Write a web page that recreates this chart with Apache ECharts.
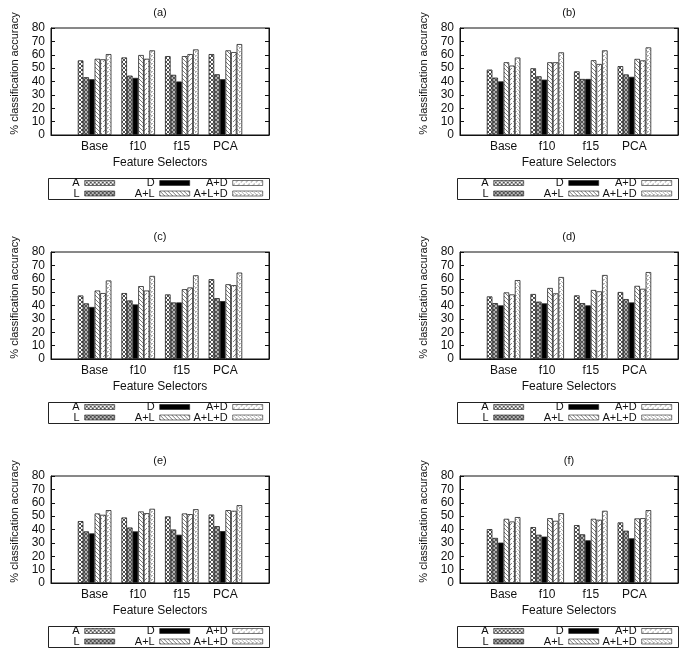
<!DOCTYPE html>
<html><head><meta charset="utf-8">
<script src="https://cdn.jsdelivr.net/npm/echarts@6/dist/echarts.min.js"></script>
<style>html,body{margin:0;padding:0;background:#fff}#chart{width:685px;height:654px}</style>
</head><body><div id="chart"></div>
<script>
// ---------- data ----------
const categories = ['Base', 'f10', 'f15', 'PCA'];
const seriesNames = ['A', 'L', 'D', 'A+L', 'A+D', 'A+L+D'];
const panelTitles = ['(a)', '(b)', '(c)', '(d)', '(e)', '(f)'];
const yMin = 0, yMax = 80, yStep = 10;
const yAxisTitle = '% classification accuracy';
const xAxisTitle = 'Feature Selectors';
// each panel: one row per series (A, L, D, A+L, A+D, A+L+D), values for Base, f10, f15, PCA
const panelA = [
  [55.8, 58.0, 59.0, 60.5],
  [43.2, 44.4, 45.0, 45.4],
  [41.7, 42.7, 40.0, 41.7],
  [57.0, 59.8, 59.0, 63.3],
  [56.6, 57.0, 60.5, 62.0],
  [60.5, 63.3, 64.0, 68.0]
];
const panelB = [
  [48.9, 49.9, 47.6, 51.5],
  [42.9, 43.9, 41.9, 45.3],
  [40.1, 41.4, 41.9, 43.5],
  [54.4, 54.4, 55.9, 56.9],
  [51.9, 54.4, 53.1, 55.8],
  [57.9, 61.8, 63.3, 65.5]
];
const panelC = [
  [47.5, 49.3, 48.3, 59.7],
  [41.6, 43.8, 42.3, 45.5],
  [38.9, 40.8, 42.3, 43.3],
  [51.2, 54.5, 52.2, 55.9],
  [49.3, 51.2, 53.5, 55.2],
  [58.7, 62.1, 62.6, 64.6]
];
const panelD = [
  [46.8, 48.6, 47.6, 50.1],
  [41.8, 42.9, 41.8, 44.8],
  [40.1, 41.6, 40.1, 42.3],
  [49.8, 53.1, 51.6, 54.7],
  [48.3, 49.1, 50.6, 52.5],
  [59.0, 61.3, 62.8, 65.0]
];
const panelE = [
  [46.3, 49.0, 49.8, 51.2],
  [38.6, 41.5, 40.0, 42.5],
  [37.1, 38.6, 36.1, 38.8],
  [52.0, 53.5, 52.0, 54.5],
  [51.0, 52.2, 51.5, 54.0],
  [54.5, 55.5, 55.2, 58.2]
];
const panelF = [
  [40.3, 41.8, 43.3, 45.3],
  [33.7, 36.1, 36.4, 39.1],
  [30.2, 34.7, 31.9, 33.4],
  [48.0, 48.5, 48.0, 48.3],
  [46.0, 46.5, 47.3, 48.5],
  [49.3, 52.2, 54.0, 54.5]
];
const panels = [panelA, panelB, panelC, panelD, panelE, panelF];

// ---------- styles ----------
const FONT = '"Liberation Sans", Arial, Helvetica, sans-serif';
const TXT = '#111';
function makeTile(w, h, bg, fg, cells) {
  const c = document.createElement('canvas');
  c.width = w; c.height = h;
  const ctx = c.getContext('2d');
  ctx.fillStyle = bg; ctx.fillRect(0, 0, w, h);
  ctx.fillStyle = fg;
  cells.forEach(p => ctx.fillRect(p[0], p[1], 1, 1));
  return { image: c, repeat: 'repeat' };
}
const X4 = [[0,0],[1,1],[2,2],[3,3],[3,0],[2,1],[1,2],[0,3]];
const fills = [
  makeTile(4, 4, '#ffffff', '#505050', X4),                 // A  crosshatch
  makeTile(4, 4, '#b4b4b4', '#555555', X4),                 // L  dense gray hatch
  '#000000',                                                // D  solid
  makeTile(4, 4, '#ffffff', '#7a7a7a', [[0,0],[1,1],[2,2],[3,3]]),   // A+L  \\\
  makeTile(5, 5, '#ffffff', '#8a8a8a', [[4,0],[3,1],[1,3],[0,4]]),   // A+D  /// dashed
  makeTile(4, 4, '#ffffff', '#b0b0b0', [[3,0],[1,1],[2,2],[0,3],[3,3]]) // A+L+D dotted
];

// ---------- layout ----------
const colBase = [50, 459];
const rowTop = [28, 252, 476];
const gridW = 218, gridH = 107;
const legendRows = [['A', 'D', 'A+D'], ['L', 'A+L', 'A+L+D']];
const legendRight = [65, 140, 213];   // swatch right edge offset from colBase
const legendRowY = [155.5, 166];      // row centre offset from grid top

const option = {
  animation: false,
  backgroundColor: '#fff',
  textStyle: { fontFamily: FONT, color: TXT },
  title: [], grid: [], xAxis: [], yAxis: [], series: [], legend: [], graphic: []
};

panels.forEach((vals, p) => {
  const left = colBase[p % 2];
  const top = rowTop[Math.floor(p / 2)];
  option.title.push({
    text: panelTitles[p], left: left + 1 + gridW / 2, top: top - 21, textAlign: 'center', padding: 0,
    textStyle: { fontFamily: FONT, fontSize: 11, fontWeight: 'normal', color: TXT }
  });
  option.grid.push({ left: left + 1, top: top, width: gridW, height: gridH, show: true,
    borderColor: '#111', borderWidth: 1, backgroundColor: 'transparent' });
  option.xAxis.push({
    type: 'category', gridIndex: p, boundaryGap: false,
    data: [''].concat(categories, ['']),
    axisLine: { lineStyle: { color: '#111', width: 1 } },
    axisTick: { show: false },
    axisLabel: { interval: 0, fontSize: 12, color: TXT, fontFamily: FONT, margin: 6 },
    name: xAxisTitle, nameLocation: 'middle', nameGap: 22,
    nameTextStyle: { fontSize: 12, color: TXT, fontFamily: FONT },
    splitLine: { show: false }
  });
  option.yAxis.push({
    type: 'value', gridIndex: p, min: yMin, max: yMax, interval: yStep,
    axisLine: { show: true, lineStyle: { color: '#111', width: 1 } },
    axisTick: { show: true, inside: true, length: 4, lineStyle: { color: '#111' } },
    axisLabel: { fontSize: 12, color: TXT, fontFamily: FONT, margin: 6 },
    splitLine: { show: false },
    name: yAxisTitle, nameLocation: 'middle', nameGap: 31, nameRotate: 90,
    nameTextStyle: { fontSize: 11, color: TXT, fontFamily: FONT, padding: [0, 0, 0, 16] }
  });
  option.yAxis.push({
    type: 'value', gridIndex: p, min: yMin, max: yMax, interval: yStep, position: 'right',
    axisLine: { show: true, lineStyle: { color: '#111', width: 1 } },
    axisTick: { show: true, inside: true, length: 4, lineStyle: { color: '#111' } },
    axisLabel: { show: false }, splitLine: { show: false }
  });
  vals.forEach((row, s) => {
    option.series.push({
      type: 'bar', name: seriesNames[s], xAxisIndex: p, yAxisIndex: 2 * p,
      data: [null].concat(row, [null]),
      barWidth: 5.6, barGap: '0%',
      itemStyle: { color: fills[s], borderColor: '#222', borderWidth: 0.8 },
      emphasis: { disabled: true }
    });
  });
  legendRows.forEach((rowNames, r) => {
    rowNames.forEach((nm, c) => {
      option.legend.push({
        data: [nm], orient: 'horizontal', align: 'right', selectedMode: false,
        right: 685 - (left + legendRight[c]), top: top + legendRowY[r] - 6,
        padding: 0, itemWidth: 30, itemHeight: 5, icon: 'rect',
        itemStyle: { borderWidth: 0.6 },
        textStyle: { fontSize: 11, color: TXT, fontFamily: FONT, padding: 0, lineHeight: 11 }
      });
    });
  });
  option.graphic.push({
    type: 'rect', silent: true,
    shape: { x: left - 2 + 0.5, y: top + 150 + 0.5, width: 221, height: 21 },
    style: { fill: 'none', stroke: '#222', lineWidth: 1 }
  });
});

const chart = echarts.init(document.getElementById('chart'), null, { renderer: 'canvas' });
chart.setOption(option);
</script>
</body></html>
